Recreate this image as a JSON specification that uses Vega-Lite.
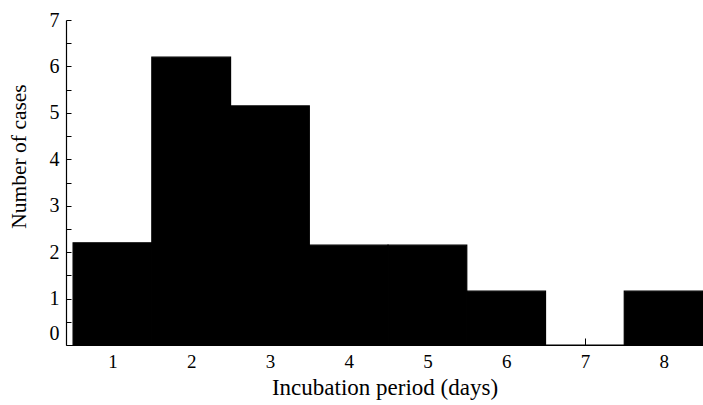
{
  "$schema": "https://vega.github.io/schema/vega-lite/v6.json",
  "width": 637,
  "height": 325,
  "autosize": {"type": "none"},
  "padding": {"left": 66, "top": 20, "right": 0, "bottom": 60},
  "background": "white",
  "config": {
    "view": {"stroke": null},
    "font": "Liberation Serif"
  },
  "data": {
    "values": [
      {"day": 1, "start": 0.5, "end": 1.5, "cases": 2.2},
      {"day": 2, "start": 1.5, "end": 2.5, "cases": 6.2},
      {"day": 3, "start": 2.5, "end": 3.5, "cases": 5.15},
      {"day": 4, "start": 3.5, "end": 4.5, "cases": 2.15},
      {"day": 5, "start": 4.5, "end": 5.5, "cases": 2.15},
      {"day": 6, "start": 5.5, "end": 6.5, "cases": 1.16},
      {"day": 7, "start": 6.5, "end": 7.5, "cases": 0},
      {"day": 8, "start": 7.5, "end": 8.5, "cases": 1.16}
    ]
  },
  "mark": {"type": "rect", "color": "black", "stroke": "black", "strokeWidth": 1.2},
  "encoding": {
    "x": {
      "field": "start",
      "type": "quantitative",
      "scale": {"domain": [0.41, 8.5], "nice": false, "zero": false},
      "axis": {
        "values": [1, 2, 3, 4, 5, 6, 7, 8],
        "format": "d",
        "grid": false,
        "domainColor": "black",
        "domainWidth": 1.2,
        "tickColor": "black",
        "tickSize": -7,
        "labelPadding": 14,
        "labelFontSize": 19,
        "labelColor": "black",
        "labelFont": "Liberation Serif",
        "title": "Incubation period (days)",
        "titleFont": "Liberation Serif",
        "titleFontSize": 23,
        "titleFontWeight": "normal",
        "titleColor": "black",
        "titleY": 42,
        "titleBaseline": "middle"
      }
    },
    "x2": {"field": "end"},
    "y": {
      "field": "cases",
      "type": "quantitative",
      "scale": {"domain": [0, 7], "nice": false},
      "axis": {
        "values": [0, 0.5, 1, 1.5, 2, 2.5, 3, 3.5, 4, 4.5, 5, 5.5, 6, 6.5, 7],
        "labelExpr": "datum.value % 1 == 0 ? format(datum.value, 'd') : ''",
        "grid": false,
        "domainColor": "black",
        "domainWidth": 1.2,
        "tickColor": "black",
        "tickSize": -5,
        "labelPadding": 12,
        "labelFontSize": 20,
        "labelColor": "black",
        "labelFont": "Liberation Serif",
        "labelOffset": {"condition": {"test": "datum.value == 0", "value": -12}, "value": 0},
        "title": "Number of cases",
        "titleFont": "Liberation Serif",
        "titleFontSize": 21.5,
        "titleFontWeight": "normal",
        "titleColor": "black",
        "titleX": -47,
        "titleY": 136,
        "titleBaseline": "middle",
        "titleAlign": "center"
      }
    },
    "y2": {"datum": 0}
  }
}
